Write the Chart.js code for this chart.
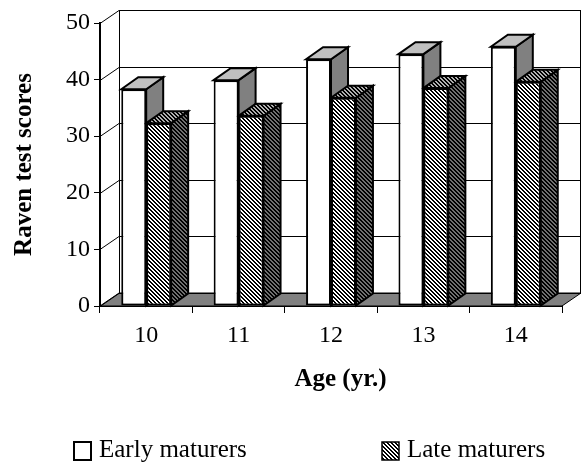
<!DOCTYPE html>
<html><head><meta charset="utf-8">
<script src="https://cdn.jsdelivr.net/npm/chart.js@4.4.1/dist/chart.umd.min.js"></script>
<style>html,body{margin:0;padding:0;background:#fff;} #wrap{width:583px;height:463px;position:relative;}</style>
</head><body><div id="wrap"><canvas id="c" width="583" height="463"></canvas></div>
<script>
// ---- data ----
const categories = ['10', '11', '12', '13', '14'];
const earlyMaturers = [38.3, 39.9, 43.6, 44.5, 45.8];
const lateMaturers = [32.3, 33.6, 36.8, 38.5, 39.6];
const seriesNames = ['Early maturers', 'Late maturers'];
const yMin = 0, yMax = 50, yStep = 10;
const xTitle = 'Age (yr.)';
const yTitle = 'Raven test scores';

// ---- style ----
const FONT = "'Liberation Serif', 'Times New Roman', serif";
const WALL = {dx: 19, dy: -13};
const BAR = {dx: 17, dy: -12};

const canvas = document.getElementById('c');
const mainCtx = canvas.getContext('2d');
function makePattern(bg, fg) {
  const c = document.createElement('canvas'); c.width = 4; c.height = 4;
  const g = c.getContext('2d');
  g.fillStyle = bg; g.fillRect(0, 0, 4, 4);
  g.fillStyle = fg;
  for (let i = 0; i < 4; i++) { g.fillRect(i, i, 1, 1); g.fillRect((i + 1) % 4, i, 1, 1); }
  return mainCtx.createPattern(c, 'repeat');
}
const patFront = makePattern('#ffffff', '#000000');
const patTop = makePattern('#b0b0b0', '#000000');
const patSide = makePattern('#707070', '#000000');

const faceStyles = [
  {front: '#ffffff', top: '#c0c0c0', side: '#808080'},
  {front: patFront, top: patTop, side: patSide}
];

function drawFaces(ctx, chart, i) {
  const meta = chart.getDatasetMeta(i);
  ctx.save();
  ctx.lineWidth = 2; ctx.strokeStyle = '#000'; ctx.lineJoin = 'miter';
  meta.data.forEach(bar => {
    const p = bar.getProps(['x', 'y', 'base', 'width'], true);
    const l = p.x - p.width / 2, r = p.x + p.width / 2, t = p.y, b = p.base;
    ctx.beginPath();
    ctx.moveTo(r, t); ctx.lineTo(r + BAR.dx, t + BAR.dy); ctx.lineTo(r + BAR.dx, b + BAR.dy); ctx.lineTo(r, b); ctx.closePath();
    ctx.fillStyle = faceStyles[i].side; ctx.fill(); ctx.stroke();
    ctx.beginPath();
    ctx.moveTo(l, t); ctx.lineTo(l + BAR.dx, t + BAR.dy); ctx.lineTo(r + BAR.dx, t + BAR.dy); ctx.lineTo(r, t); ctx.closePath();
    ctx.fillStyle = faceStyles[i].top; ctx.fill(); ctx.stroke();
  });
  ctx.restore();
}

const plot3d = {
  id: 'plot3d',
  beforeDatasetsDraw(chart) {
    const {ctx, chartArea: a, scales: {y}} = chart;
    const L = a.left, R = a.right;
    const B = y.getPixelForValue(yMin), T = y.getPixelForValue(yMax);
    ctx.save();
    // floor
    ctx.beginPath();
    ctx.moveTo(L, B); ctx.lineTo(R, B); ctx.lineTo(R + WALL.dx, B + WALL.dy); ctx.lineTo(L + WALL.dx, B + WALL.dy); ctx.closePath();
    ctx.fillStyle = '#808080'; ctx.fill();
    ctx.lineWidth = 1; ctx.strokeStyle = '#000'; ctx.stroke();
    // back wall & left wall gridlines
    ctx.beginPath();
    y.ticks.forEach(t => {
      const py = Math.round(y.getPixelForValue(t.value)) + 0.5;
      ctx.moveTo(L, py); ctx.lineTo(L + WALL.dx, py + WALL.dy);
      ctx.moveTo(L + WALL.dx, py + WALL.dy); ctx.lineTo(R + WALL.dx, py + WALL.dy);
    });
    const lx = Math.round(L + WALL.dx) + 0.5, rx = Math.round(R + WALL.dx) - 0.5;
    ctx.moveTo(lx, T + WALL.dy); ctx.lineTo(lx, B + WALL.dy);
    ctx.moveTo(rx, T + WALL.dy); ctx.lineTo(rx, B + WALL.dy);
    ctx.stroke();
    ctx.restore();
    drawFaces(ctx, chart, 0);
  },
  afterDatasetDraw(chart, args) {
    if (args.index === 1) drawFaces(chart.ctx, chart, 1);
  },
  afterDraw(chart) {
    const {ctx, chartArea: a} = chart;
    ctx.save();
    // x axis title (centred on plot incl. depth)
    ctx.fillStyle = '#000';
    ctx.font = "bold 25px " + FONT;
    ctx.textAlign = 'center'; ctx.textBaseline = 'alphabetic';
    ctx.fillText(xTitle, (a.left + a.right + WALL.dx) / 2, 386);
    // legend
    const items = [{x: 74, i: 0}, {x: 382, i: 1}];
    ctx.font = "25px " + FONT;
    ctx.textAlign = 'left';
    items.forEach(it => {
      ctx.fillStyle = faceStyles[it.i].front;
      ctx.fillRect(it.x, 442, 17, 18);
      ctx.lineWidth = it.i === 0 ? 2 : 1.5; ctx.strokeStyle = '#000';
      ctx.strokeRect(it.x, 442, 17, 18);
      ctx.fillStyle = '#000';
      ctx.fillText(chart.data.datasets[it.i].label, it.x + 25, 457);
    });
    ctx.restore();
  }
};

new Chart(canvas, {
  type: 'bar',
  data: {
    labels: categories,
    datasets: [
      {label: seriesNames[0], data: earlyMaturers, backgroundColor: faceStyles[0].front,
       borderColor: '#000', borderWidth: 2, borderSkipped: false},
      {label: seriesNames[1], data: lateMaturers, backgroundColor: faceStyles[1].front,
       borderColor: '#000', borderWidth: 2, borderSkipped: false}
    ]
  },
  options: {
    responsive: false,
    animation: false,
    events: [],
    layout: {padding: {left: 0, right: 21, top: 23, bottom: 0}},
    datasets: {bar: {categoryPercentage: 0.54, barPercentage: 1.0}},
    plugins: {legend: {display: false}, tooltip: {enabled: false}},
    scales: {
      x: {
        z: 1,
        grid: {display: true, drawOnChartArea: false, drawTicks: true, tickLength: 7, color: '#000', lineWidth: 1, offset: true},
        border: {display: true, color: '#000', width: 2},
        ticks: {color: '#000', font: {family: FONT, size: 24}, padding: 8, maxRotation: 0},
        afterFit(s) { s.height = 157; }
      },
      y: {
        z: 1,
        min: yMin, max: yMax,
        grid: {display: true, drawOnChartArea: false, drawTicks: true, tickLength: 6, color: '#000', lineWidth: 1},
        border: {display: true, color: '#000', width: 2},
        ticks: {stepSize: yStep, color: '#000', font: {family: FONT, size: 24}, padding: 4},
        title: {display: true, text: yTitle, color: '#000', font: {family: FONT, size: 25, weight: 'bold'}, padding: {top: 10, bottom: 0}},
        afterFit(s) { s.width = 100; }
      }
    }
  },
  plugins: [plot3d]
});
</script>
</body></html>
